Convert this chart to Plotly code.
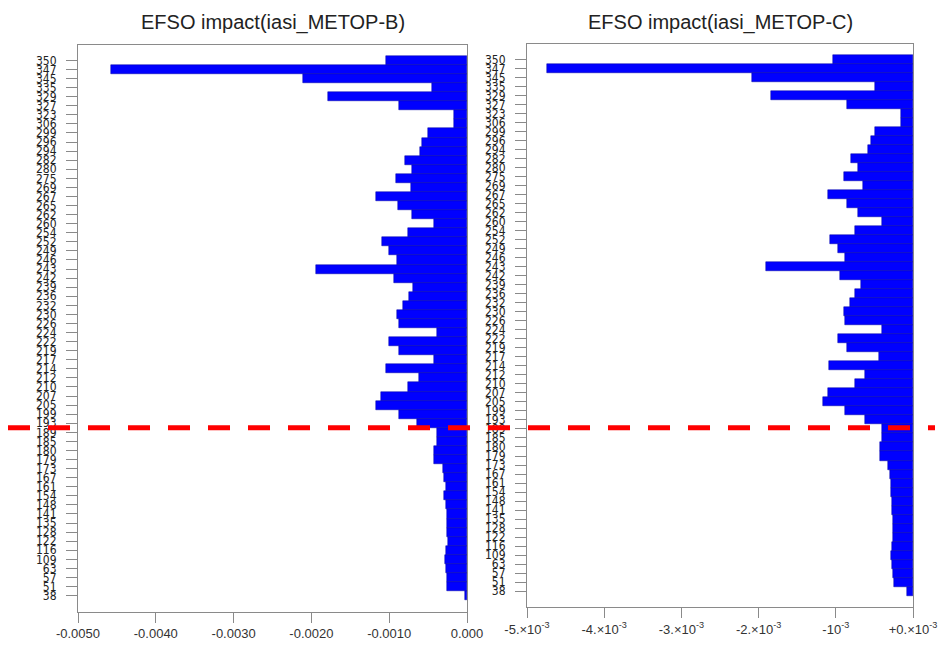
import plotly.graph_objects as go

# IASI channels, top to bottom as shown
channels = [350, 347, 345, 335, 329, 327, 323, 306, 299, 296,
            294, 282, 280, 275, 269, 267, 265, 262, 260, 254,
            252, 249, 246, 243, 242, 239, 236, 232, 230, 226,
            224, 222, 219, 217, 214, 212, 210, 207, 205, 199,
            193, 189, 185, 180, 179, 173, 167, 161, 154, 148,
            141, 135, 128, 122, 116, 109, 63, 57, 51, 38]

efso_metop_b = [-0.00104, -0.00458, -0.00211, -0.00045, -0.00179, -0.00088, -0.00017, -0.00017, -0.00050, -0.00058,
                -0.00060, -0.00080, -0.00071, -0.00091, -0.00072, -0.00117, -0.00089, -0.00071, -0.00042, -0.00076,
                -0.00109, -0.00100, -0.00090, -0.00194, -0.00094, -0.00069, -0.00075, -0.00082, -0.00090, -0.00088,
                -0.00039, -0.00100, -0.00087, -0.00042, -0.00104, -0.00062, -0.00076, -0.00110, -0.00117, -0.00088,
                -0.00064, -0.00039, -0.00039, -0.00043, -0.00043, -0.00031, -0.00029, -0.00027, -0.00029, -0.00027,
                -0.00026, -0.00026, -0.00026, -0.000245, -0.00027, -0.00028, -0.00027, -0.00026, -0.000255, -0.00002]

efso_metop_c = [-0.00104, -0.00474, -0.00209, -0.00049, -0.00184, -0.00085, -0.00016, -0.00016, -0.00049, -0.00055,
                -0.00058, -0.00080, -0.00071, -0.00090, -0.00065, -0.00110, -0.00086, -0.00071, -0.00040, -0.00075,
                -0.00107, -0.00097, -0.00088, -0.00190, -0.00094, -0.00068, -0.00075, -0.00081, -0.00090, -0.00088,
                -0.00040, -0.00097, -0.00085, -0.00044, -0.00109, -0.00062, -0.00075, -0.00110, -0.00117, -0.00088,
                -0.00062, -0.00040, -0.00040, -0.00043, -0.00043, -0.00032, -0.00030, -0.00028, -0.00028, -0.00027,
                -0.00027, -0.00026, -0.00026, -0.00026, -0.00027, -0.00028, -0.00027, -0.00026, -0.00025, -0.00008]

titles = ["EFSO impact(iasi_METOP-B)", "EFSO impact(iasi_METOP-C)"]

x_tickvals = [-0.005, -0.004, -0.003, -0.002, -0.001, 0.0]
x_ticktext_left = ["-0.0050", "-0.0040", "-0.0030", "-0.0020", "-0.0010", "0.000"]
x_ticktext_right = ["-5.×10<sup>-3</sup>", "-4.×10<sup>-3</sup>", "-3.×10<sup>-3</sup>",
                    "-2.×10<sup>-3</sup>", "-10<sup>-3</sup>", "+0.×10<sup>-3</sup>"]

threshold_pos = 18.5  # between channel 189 and 193 (category index from bottom)

labels = [str(c) for c in channels]
cat_order = labels[::-1]

y_range = [-1.75, 60.7]
y_dom_left = [1 - 611.5/649, 1 - 45/649]
y_dom_right = [1 - 607/649, 1 - 44/649]

fig = go.Figure()
bar_kw = dict(orientation="h", width=1.0,
              marker=dict(color="#0000ff", line=dict(color="#0000a0", width=0.5)),
              showlegend=False, hoverinfo="x+y")
fig.add_trace(go.Bar(x=efso_metop_b, y=labels, xaxis="x", yaxis="y", **bar_kw))
fig.add_trace(go.Bar(x=efso_metop_c, y=labels, xaxis="x2", yaxis="y2", **bar_kw))

axis_col = "#8a8a8a"
ytick_font = dict(family="Liberation Sans Narrow, DejaVu Sans Condensed, Liberation Sans, Arial", size=12, color="#222")
xtick_font = dict(family="Liberation Sans, Arial", size=13, color="#333")

common_x = dict(range=[-0.005, 0.0], tickvals=x_tickvals, ticks="outside", ticklen=10,
                tickcolor=axis_col, showline=True, linecolor=axis_col, linewidth=1, mirror=True,
                showgrid=False, zeroline=False, tickfont=xtick_font, automargin=False)
common_y = dict(type="category", categoryorder="array", categoryarray=cat_order,
                range=y_range, ticks="outside", ticklen=11, tickcolor=axis_col,
                showline=True, linecolor=axis_col, linewidth=1, mirror=True,
                showgrid=False, zeroline=False, tickfont=ytick_font, dtick=1,
                ticklabelstandoff=7, automargin=False)

fig.update_layout(
    width=940, height=649,
    margin=dict(l=0, r=0, t=0, b=0, autoexpand=False),
    paper_bgcolor="white", plot_bgcolor="white",
    bargap=0,
    showlegend=False,
    xaxis=dict(domain=[78/940, 467/940], anchor="y", ticktext=x_ticktext_left, **common_x),
    yaxis=dict(domain=y_dom_left, anchor="x", **common_y),
    xaxis2=dict(domain=[527/940, 913/940], anchor="y2", ticktext=x_ticktext_right, **common_x),
    yaxis2=dict(domain=y_dom_right, anchor="x2", **common_y),
)

title_font = dict(family="Liberation Sans, Arial", size=20, color="#222")
fig.add_annotation(text=titles[0], xref="paper", yref="paper", x=(78+467)/2/940, y=1-22/649,
                   xanchor="center", yanchor="middle", showarrow=False, font=title_font)
fig.add_annotation(text=titles[1], xref="paper", yref="paper", x=(527+913)/2/940, y=1-22/649,
                   xanchor="center", yanchor="middle", showarrow=False, font=title_font)

# threshold line position converted through the left y axis scale to paper units
frac = (threshold_pos - y_range[0]) / (y_range[1] - y_range[0])
y_line = y_dom_left[0] + frac * (y_dom_left[1] - y_dom_left[0])
fig.add_shape(type="line", xref="paper", yref="paper", x0=8/940, x1=935/940,
              y0=y_line, y1=y_line,
              line=dict(color="#ff0000", width=5, dash="22px,18px"), layer="above")

fig.write_html("out.html")
